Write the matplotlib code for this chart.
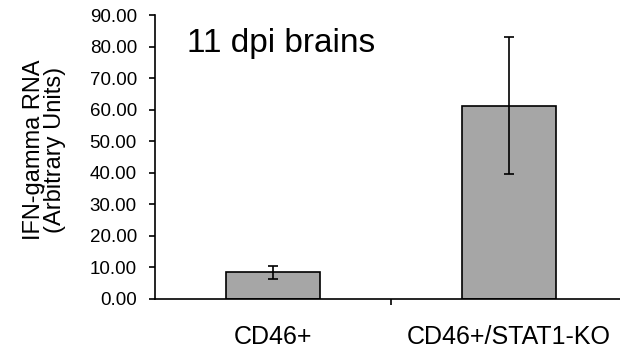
import numpy as np
import matplotlib.pyplot as plt

plt.rcParams["font.family"] = ["Liberation Sans", "DejaVu Sans"]

groups = ["CD46+", "CD46+/STAT1-KO"]
means = [8.4, 61.2]
errors = [2.1, 21.7]
yticks = np.arange(0, 91, 10)

fig = plt.figure(figsize=(6.2, 3.53), dpi=100)
ax = fig.add_axes([0.25, 0.153, 0.761, 0.8045])

x = np.arange(len(groups))
ax.bar(x, means, width=0.4, color="#a6a6a6", edgecolor="black", linewidth=1.2,
       yerr=errors, error_kw=dict(ecolor="black", elinewidth=1.2, capsize=3.6, capthick=1.2))

ax.set_xlim(-0.5, 1.5)
ax.set_ylim(0, 90)
ax.set_yticks(yticks)
ax.set_yticklabels([f"{v:.2f}" for v in yticks], fontsize=13.5)
ax.set_xticks([0.5])
ax.set_xticklabels([""])
for xi, name in zip(x, groups):
    ax.text(xi, -12, name, ha="center", va="center", fontsize=18)

for s in ["top", "right"]:
    ax.spines[s].set_visible(False)
ax.spines["left"].set_linewidth(1.2)
ax.spines["bottom"].set_linewidth(1.2)
ax.tick_params(axis="both", direction="out", length=4, width=1.2)
ax.tick_params(axis="y", pad=9)

ax.text(-0.235, 0.525, "IFN-gamma RNA\n(Arbitrary Units)", fontsize=17, rotation=90,
        ha="center", va="center", multialignment="center", linespacing=0.95,
        transform=ax.transAxes)
ax.text(-0.364, 78.3, "11 dpi brains", fontsize=24, ha="left", va="baseline")

fig.savefig("out.png", dpi=100)
